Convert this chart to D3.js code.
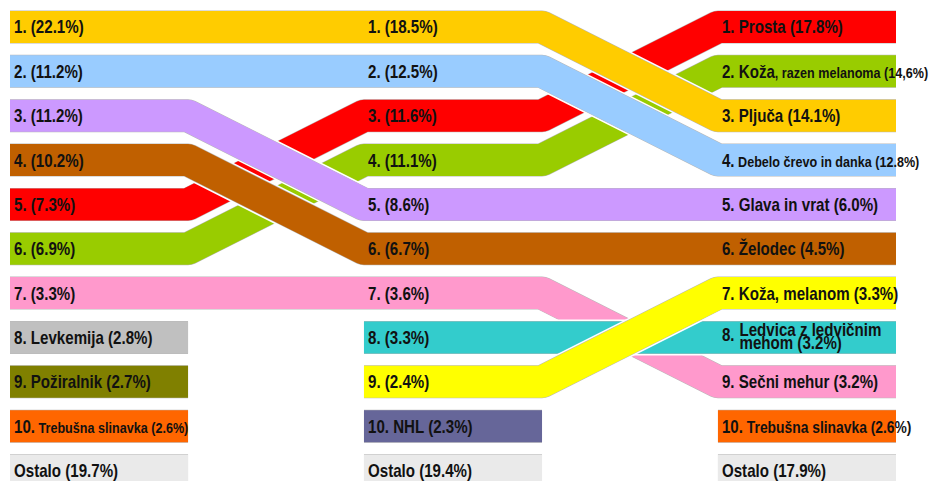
<!DOCTYPE html>
<html>
<head>
<meta charset="utf-8">
<script src="https://cdn.jsdelivr.net/npm/d3@7/dist/d3.min.js"></script>
<style>
  html, body { margin: 0; padding: 0; background: #fff; }
  svg { display: block; }
  text { font-family: "Liberation Sans", Arial, sans-serif; font-weight: bold; fill: #111; }
</style>
</head>
<body>
<svg id="chart" width="933" height="481"></svg>
<script>
// Ranking of cancer sites in three periods, each column ordered by rank (1..10, then "Ostalo").
const leftOrder = ["Pljuča", "Debelo črevo in danka", "Glava in vrat", "Želodec", "Prosta",
  "Koža, razen melanoma", "Sečni mehur", "Levkemija", "Požiralnik", "Trebušna slinavka", "Ostalo"];
const leftShare = [22.1, 11.2, 11.2, 10.2, 7.3, 6.9, 3.3, 2.8, 2.7, 2.6, 19.7];

const middleOrder = ["Pljuča", "Debelo črevo in danka", "Prosta", "Koža, razen melanoma", "Glava in vrat",
  "Želodec", "Sečni mehur", "Ledvica z ledvičnim mehom", "Koža, melanom", "NHL", "Ostalo"];
const middleShare = [18.5, 12.5, 11.6, 11.1, 8.6, 6.7, 3.6, 3.3, 2.4, 2.3, 19.4];

const rightOrder = ["Prosta", "Koža, razen melanoma", "Pljuča", "Debelo črevo in danka", "Glava in vrat",
  "Želodec", "Koža, melanom", "Ledvica z ledvičnim mehom", "Sečni mehur", "Trebušna slinavka", "Ostalo"];
const rightShare = [17.8, 14.6, 14.1, 12.8, 6.0, 4.5, 3.3, 3.2, 3.2, 2.6, 17.9];

// Site colours; list order is also the drawing order (later ones lie on top where bands cross).
const siteNames = ["Prosta", "Koža, razen melanoma", "Sečni mehur", "Ledvica z ledvičnim mehom",
  "Glava in vrat", "Želodec", "Pljuča", "Debelo črevo in danka", "Koža, melanom",
  "Levkemija", "Požiralnik", "Trebušna slinavka", "NHL", "Ostalo"];
const siteColors = ["#ff0000", "#99cc00", "#ff99cc", "#33cccc",
  "#cc99ff", "#c06000", "#ffcc00", "#99ccff", "#ffff00",
  "#c0c0c0", "#808000", "#ff6600", "#666699", "#eaeaea"];

const columns = [
  { order: leftOrder, share: leftShare, decimal: leftOrder.map(() => ".") },
  { order: middleOrder, share: middleShare, decimal: middleOrder.map(() => ".") },
  { order: rightOrder, share: rightShare, decimal: [".", ",", ".", ".", ".", ".", ".", ".", ".", ".", "."] }
];

const color = d3.scaleOrdinal().domain(siteNames).range(siteColors);

const svg = d3.select("#chart");
const BIG = 18, SMALL = 15, SQUEEZE = 0.84;

const x = d3.scaleBand().domain([0, 1, 2]).range([10, 896]).paddingInner(0.497);
const y = d3.scaleBand().domain(d3.range(1, 12)).range([11, 486.5]).paddingInner(0.2785);
const bw = x.bandwidth(), bh = y.bandwidth();
const yc = r => y(r) + bh / 2;

const rankOf = (c, name) => {
  const i = columns[c].order.indexOf(name);
  return i < 0 ? null : i + 1;
};

// Each site becomes one or more runs of adjacent columns; "Ostalo" is never linked.
const runs = [];
siteNames.forEach(name => {
  let cur = null;
  [0, 1, 2].forEach(c => {
    const r = rankOf(c, name);
    if (r === null) { cur = null; return; }
    if (!cur || name === "Ostalo") { cur = { name, pts: [] }; runs.push(cur); }
    cur.pts.push([x(c), yc(r)], [x(c) + bw, yc(r)]);
  });
});

const line = d3.line();
const bands = svg.append("g");
runs.forEach(run => {
  const g = bands.append("g");
  g.append("path").attr("d", line(run.pts)).attr("fill", "none")
    .attr("stroke", "#fff").attr("stroke-width", bh + 4).attr("stroke-linejoin", "round");
  g.append("path").attr("d", line(run.pts)).attr("fill", "none")
    .attr("stroke", "#b8b8b8").attr("stroke-width", bh + 1).attr("stroke-linejoin", "round");
  g.append("path").attr("d", line(run.pts)).attr("fill", "none")
    .attr("stroke", color(run.name)).attr("stroke-width", bh).attr("stroke-linejoin", "round");
});

// Labels, set in a condensed bold face (horizontally squeezed).
const compact = new Set(["Debelo črevo in danka", "Trebušna slinavka"]);
const labels = svg.append("g");
const addText = (tx, ty, size) => labels.append("text")
  .attr("transform", `translate(${tx},${ty}) scale(${SQUEEZE},1)`)
  .attr("font-size", size);

columns.forEach((col, c) => {
  col.order.forEach((name, i) => {
    const rank = i + 1;
    const share = col.share[i].toFixed(1).replace(".", col.decimal[i]) + "%";
    const named = c === 2 || rankOf(c + 1, name) === null;
    const tx = x(c) + 4, ty = yc(rank) + 6.5;
    if (name === "Ostalo") {
      addText(tx, ty, BIG).text(`Ostalo (${share})`);
    } else if (!named) {
      addText(tx, ty, BIG).text(`${rank}. (${share})`);
    } else if (name === "Koža, razen melanoma") {
      const t = addText(tx, ty, BIG);
      t.append("tspan").text(`${rank}. Koža`);
      t.append("tspan").attr("font-size", SMALL).text(`, razen melanoma (${share})`);
    } else if (compact.has(name)) {
      const t = addText(tx, ty, BIG);
      t.append("tspan").text(`${rank}.`);
      t.append("tspan").attr("font-size", c === 2 && rank === 10 ? 16.5 : SMALL)
        .text(` ${name} (${share})`);
    } else if (name === "Ledvica z ledvičnim mehom") {
      addText(tx, yc(rank) + 4, BIG).text(`${rank}.`);
      const t2 = addText(tx + 17.5, yc(rank) - 1.5, BIG);
      t2.append("tspan").attr("x", 0).text("Ledvica z ledvičnim");
      t2.append("tspan").attr("x", 0).attr("dy", 13.5).text(`mehom (${share})`);
    } else {
      addText(tx, ty, BIG).text(`${rank}. ${name} (${share})`);
    }
  });
});
</script>
</body>
</html>
